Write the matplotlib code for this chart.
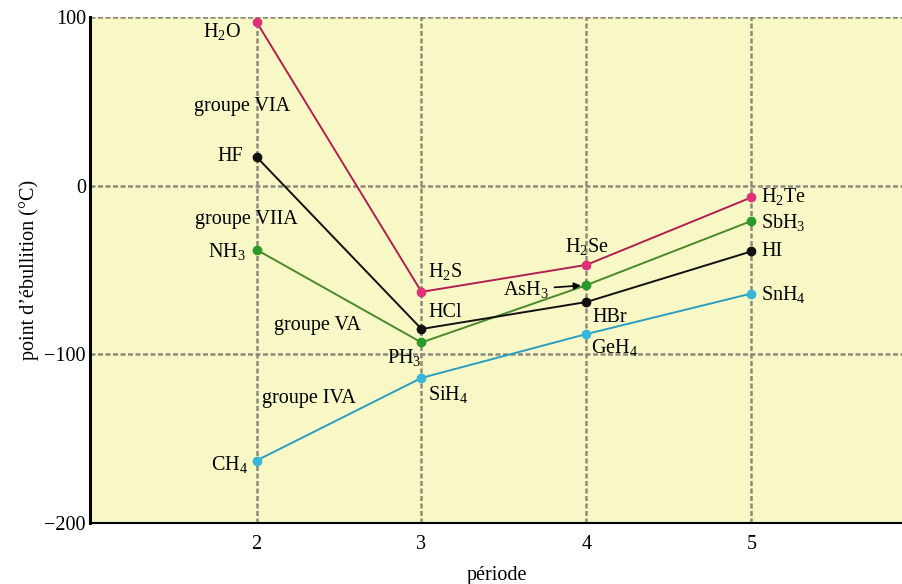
import matplotlib
matplotlib.use("Agg")
import matplotlib.pyplot as plt

periods = [2, 3, 4, 5]
groupe_IVA = [-163, -114, -88, -64]
groupe_VA = [-38, -93, -59, -21]
groupe_VIA = [97, -63, -47, -7]
groupe_VIIA = [17, -85, -69, -39]

names_IVA = ["CH$_4$", "SiH$_4$", "GeH$_4$", "SnH$_4$"]
names_VA = ["NH$_3$", "PH$_3$", "AsH$_3$", "SbH$_3$"]
names_VIA = ["H$_2$O", "H$_2$S", "H$_2$Se", "H$_2$Te"]
names_VIIA = ["HF", "HCl", "HBr", "HI"]

plt.rcParams['font.family'] = ['Liberation Serif', 'DejaVu Serif']
plt.rcParams['mathtext.fontset'] = 'custom'
plt.rcParams['mathtext.rm'] = 'Liberation Serif'
plt.rcParams['mathtext.it'] = 'Liberation Serif:italic'

fig = plt.figure(figsize=(9.03, 5.84), dpi=100)
ax = fig.add_axes([0.0997, 0.1045, 0.9003, 0.8665])
ax.set_facecolor('#f8f7c6')

ax.set_xlim(0.99, 5.92)
ax.set_ylim(-200, 100)

grid_kw = dict(color='#8c8a7c', lw=1.8, ls=(0, (2, 1)), zorder=1)
for x in periods:
    ax.axvline(x, **grid_kw)
for y in [100, 0, -100]:
    ax.axhline(y, **grid_kw)

series = [
    (groupe_IVA, '#2a9fbf', '#38b6d8'),
    (groupe_VA, '#4a8a2a', '#2a9a2a'),
    (groupe_VIIA, '#111111', '#111111'),
    (groupe_VIA, '#b02050', '#e0307a'),
]
for vals, lc, mc in series:
    ax.plot(periods, vals, color=lc, lw=1.4, zorder=3)
    ax.plot(periods, vals, 'o', color=mc, ms=6, zorder=4)

fs = 14.5
def lab(txt, x, y, dx, dy, ha='left'):
    ax.annotate(txt, (x, y), xytext=(dx, dy), textcoords='offset points',
                ha=ha, va='center', fontsize=fs, zorder=5)

# period 2 (labels to the left)
lab(names_VIA[0], 2, groupe_VIA[0], -11, -7, 'right')
lab(names_VIIA[0], 2, groupe_VIIA[0], -10, 0, 'right')
lab(names_VA[0], 2, groupe_VA[0], -8, -1, 'right')
lab(names_IVA[0], 2, groupe_IVA[0], -6, -3, 'right')
# period 3
lab(names_VIA[1], 3, groupe_VIA[1], 5, 15)
lab(names_VIIA[1], 3, groupe_VIIA[1], 5, 12)
lab(names_VA[1], 3, groupe_VA[1], 0, -11, 'right')
lab(names_IVA[1], 3, groupe_IVA[1], 5, -12)
# period 4
lab(names_VIA[2], 4, groupe_VIA[2], 0, 13, 'center')
ax.annotate(names_VA[2], (4, groupe_VA[2]), xytext=(-27, -3), textcoords='offset points',
            ha='right', va='center', fontsize=fs, zorder=5,
            arrowprops=dict(arrowstyle='-|>', color='black', lw=1.2,
                            shrinkA=2, shrinkB=4, mutation_scale=10))
lab(names_VIIA[2], 4, groupe_VIIA[2], 4, -11)
lab(names_IVA[2], 4, groupe_IVA[2], 3, -10)
# period 5
lab(names_VIA[3], 5, groupe_VIA[3], 7, 1)
lab(names_VA[3], 5, groupe_VA[3], 7, -1)
lab(names_VIIA[3], 5, groupe_VIIA[3], 7, 0)
lab(names_IVA[3], 5, groupe_IVA[3], 7, -1)

# group labels
ax.text(1.91, 47, 'groupe VIA', ha='center', va='center', fontsize=fs, zorder=5)
ax.text(1.94, -20, 'groupe VIIA', ha='center', va='center', fontsize=fs, zorder=5)
ax.text(2.37, -83, 'groupe VA', ha='center', va='center', fontsize=fs, zorder=5)
ax.text(2.32, -126, 'groupe IVA', ha='center', va='center', fontsize=fs, zorder=5)

ax.set_xticks(periods)
ax.set_yticks([-200, -100, 0, 100])
ax.set_yticklabels(['\u2212200', '\u2212100', '0', '100'])
ax.tick_params(length=0, labelsize=fs, pad=9)
ax.tick_params(axis='y', pad=3)

for s in ['top', 'right']:
    ax.spines[s].set_visible(False)
ax.spines['left'].set_linewidth(2.2)
ax.spines['bottom'].set_linewidth(1.5)

ax.set_xlabel('période', fontsize=fs, labelpad=8)
ax.set_ylabel('point d\u2019ébullition (°C)', fontsize=fs, labelpad=4)

fig.savefig('out.png', dpi=100, facecolor='white')
